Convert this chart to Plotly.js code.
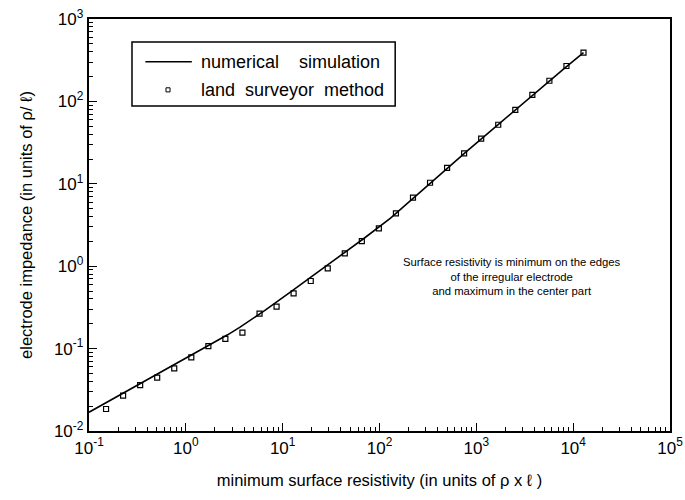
<!DOCTYPE html>
<html>
<head>
<meta charset="utf-8">
<script src="https://cdn.plot.ly/plotly-3.0.1.min.js"></script>
<style>html,body{margin:0;padding:0;background:#fff}#chart{width:685px;height:500px}</style>
</head>
<body>
<div id="chart"></div>
<script>
// numerical simulation curve
const simX = [0.1, 0.2, 0.336, 0.6, 1.1, 2, 2.7, 3.63, 4.9, 6.5, 11.9, 22, 39.2, 70, 130, 240, 430, 800, 1400, 2600, 4600, 8000, 12784];
const simY = [0.0169, 0.0266, 0.0374, 0.0546, 0.0813, 0.120, 0.147, 0.182, 0.230, 0.289, 0.48, 0.81, 1.33, 2.2, 3.83, 7.25, 13.4, 24.9, 43.6, 81, 145, 248, 390];

// land surveyor method points
const lsX = [0.15, 0.225, 0.3375, 0.506, 0.759, 1.139, 1.709, 2.56, 3.84, 5.77, 8.65, 12.97, 19.5, 29.2, 43.8, 65.7, 98.5, 147.8, 221.7, 332.5, 498.8, 748, 1122, 1683, 2525, 3788, 5682, 8523, 12784];
const lsY = [0.0185, 0.0269, 0.0361, 0.0444, 0.0577, 0.0783, 0.107, 0.131, 0.156, 0.265, 0.323, 0.469, 0.661, 0.94, 1.43, 2.02, 2.88, 4.38, 6.79, 10.3, 15.6, 23.4, 35.3, 52.1, 78.7, 120, 178, 269, 390];

const seriesNames = ['numerical\u00a0\u00a0\u00a0\u00a0simulation', 'land\u00a0\u00a0surveyor\u00a0\u00a0method'];

const xTickVals = [0.1, 1, 10, 100, 1000, 10000, 100000];
const xTickText = ['10<sup>-1</sup>', '10<sup>0</sup>', '10<sup>1</sup>', '10<sup>2</sup>', '10<sup>3</sup>', '10<sup>4</sup>', '10<sup>5</sup>'];
const yTickVals = [0.01, 0.1, 1, 10, 100, 1000];
const yTickText = ['10<sup>-2</sup>', '10<sup>-1</sup>', '10<sup>0</sup>', '10<sup>1</sup>', '10<sup>2</sup>', '10<sup>3</sup>'];

const noteLines = ['Surface resistivity is minimum on the edges', 'of the irregular electrode', 'and maximum in the center part'];

function minorVals(lo, hi) {
  const v = [];
  for (let e = lo; e < hi; e++) for (let m = 2; m <= 9; m++) v.push(m * Math.pow(10, e));
  return v;
}

const font = 'Liberation Sans, Arial, Helvetica, sans-serif';

const traces = [
  {
    x: simX, y: simY, type: 'scatter', mode: 'lines', name: seriesNames[0],
    line: {color: '#000', width: 1.6}
  },
  {
    x: lsX, y: lsY, type: 'scatter', mode: 'markers', name: seriesNames[1],
    marker: {symbol: 'square-open', size: 5, color: '#000', line: {width: 1.2, color: '#000'}}
  }
];

const axisCommon = {
  type: 'log', showgrid: false, zeroline: false,
  showline: true, linecolor: '#000', linewidth: 2.2, mirror: true,
  ticks: 'inside', ticklen: 8, tickwidth: 1, tickcolor: '#000',
  tickfont: {family: font, size: 17, color: '#000'}
};

// custom legend (paper coordinates)
const lg = {x0: 0.074, x1: 0.527, y0: 0.789, y1: 0.944, row1: 0.896, row2: 0.828, lineX0: 0.097, lineX1: 0.177, symX: 0.136, textX: 0.189};

const layout = {
  width: 685, height: 500,
  margin: {l: 89, r: 15, t: 19, b: 69},
  paper_bgcolor: '#fff', plot_bgcolor: '#fff',
  showlegend: false,
  xaxis: Object.assign({}, axisCommon, {
    range: [-1, 5], tickvals: xTickVals, ticktext: xTickText,
    minor: {tickvals: minorVals(-1, 5), ticks: 'inside', ticklen: 4, tickcolor: '#000', showgrid: false},
    title: {text: 'minimum surface resistivity (in units of ρ x ℓ )', font: {family: font, size: 16.5, color: '#000'}, standoff: 18}
  }),
  yaxis: Object.assign({}, axisCommon, {
    range: [-2, 3], tickvals: yTickVals, ticktext: yTickText,
    minor: {tickvals: minorVals(-2, 3), ticks: 'inside', ticklen: 4, tickcolor: '#000', showgrid: false},
    title: {text: 'electrode impedance (in units of ρ/ ℓ)', font: {family: font, size: 16.5, color: '#000'}, standoff: 17}
  }),
  shapes: [
    {type: 'rect', xref: 'paper', yref: 'paper', x0: lg.x0, x1: lg.x1, y0: lg.y0, y1: lg.y1,
     line: {color: '#000', width: 1.5}, fillcolor: '#fff', layer: 'above'},
    {type: 'line', xref: 'paper', yref: 'paper', x0: lg.lineX0, x1: lg.lineX1, y0: lg.row1, y1: lg.row1,
     line: {color: '#000', width: 1.5}, layer: 'above'},
    {type: 'rect', xref: 'paper', yref: 'paper', x0: lg.symX - 0.0035, x1: lg.symX + 0.0035, y0: lg.row2 - 0.005, y1: lg.row2 + 0.005,
     line: {color: '#000', width: 1}, fillcolor: '#fff', layer: 'above'}
  ],
  annotations: [
    {xref: 'paper', yref: 'paper', x: lg.textX, y: lg.row1, xanchor: 'left', yanchor: 'middle',
     text: seriesNames[0], showarrow: false, font: {family: font, size: 18, color: '#000'}},
    {xref: 'paper', yref: 'paper', x: lg.textX, y: lg.row2, xanchor: 'left', yanchor: 'middle',
     text: seriesNames[1], showarrow: false, font: {family: font, size: 18, color: '#000'}},
    {xref: 'x', yref: 'y', x: 3.37, y: -0.131, xanchor: 'center', yanchor: 'middle',
     text: noteLines.join('<br>'), showarrow: false, align: 'center',
     font: {family: font, size: 11.3, color: '#000'}}
  ]
};

Plotly.newPlot('chart', traces, layout, {displayModeBar: false, staticPlot: true});
</script>
</body>
</html>
